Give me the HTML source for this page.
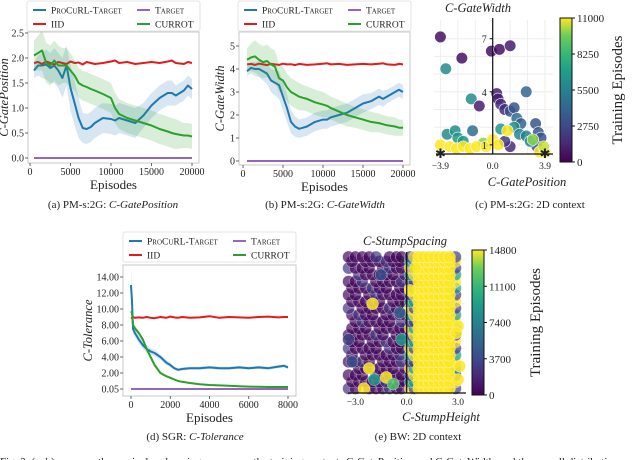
<!DOCTYPE html>
<html><head><meta charset="utf-8"><style>
html,body{margin:0;padding:0;background:#fff;}
body{width:640px;height:460px;overflow:hidden;position:relative;font-family:"Liberation Serif",serif;}
svg{position:absolute;left:0;top:0;}
text{font-family:"Liberation Serif",serif;fill:#222;}
</style></head><body>
<svg id="fig" width="640" height="460" viewBox="0 0 640 460">
<defs>
<linearGradient id="viridis" x1="0" y1="1" x2="0" y2="0">
<stop offset="0" stop-color="#440154"/><stop offset="0.13" stop-color="#482878"/><stop offset="0.25" stop-color="#3e4989"/><stop offset="0.38" stop-color="#31688e"/><stop offset="0.5" stop-color="#26828e"/><stop offset="0.63" stop-color="#1f9e89"/><stop offset="0.75" stop-color="#35b779"/><stop offset="0.88" stop-color="#6ece58"/><stop offset="1" stop-color="#fde725"/>
</linearGradient>
</defs>
</svg>
<script>
// ---------- data panel (a) & (b) ----------
const epAB = [0.5,1,1.5,2,2.5,3,3.5,4,4.5,5,5.5,6,6.5,7,7.5,8,9,10,10.5,11,12,13,14,15,16,17,17.5,18,19,19.5,20];
const procurlA = [1.75,1.85,1.85,1.87,1.8,1.85,1.75,1.6,1.85,1.4,1.1,0.8,0.6,0.58,0.62,0.7,0.8,0.78,0.75,0.8,0.75,0.7,0.85,1.05,1.2,1.3,1.3,1.25,1.35,1.45,1.38];
const currotA = [2.05,2.1,2.15,1.9,1.85,1.95,1.85,1.85,1.85,1.75,1.65,1.5,1.45,1.42,1.38,1.35,1.28,1.2,1.0,0.88,0.8,0.75,0.7,0.65,0.58,0.53,0.5,0.48,0.45,0.45,0.43];
const iidA = [1.9,1.92,1.88,1.93,1.9,1.87,1.92,1.9,1.88,1.93,1.9,1.91,1.87,1.92,1.9,1.88,1.9,1.93,1.95,1.9,1.92,1.88,1.9,1.92,1.9,1.93,1.95,1.9,1.88,1.92,1.9];
const targetA = [0,0];
const procurlBandA = [0.15,0.2,0.25,0.3,0.3,0.35,0.35,0.4,0.4,0.45,0.45,0.4,0.3,0.3,0.3,0.3,0.3,0.3,0.3,0.3,0.3,0.3,0.25,0.25,0.25,0.25,0.25,0.2,0.2,0.2,0.2];
const currotBandA = [0.3,0.35,0.4,0.4,0.4,0.4,0.4,0.35,0.35,0.35,0.3,0.3,0.3,0.3,0.3,0.3,0.3,0.3,0.3,0.3,0.3,0.3,0.3,0.3,0.3,0.3,0.3,0.3,0.25,0.25,0.25];
const procurlB = [3.9,4.05,4.0,4.0,3.9,3.8,3.5,3.4,3.3,2.8,2.3,1.7,1.5,1.4,1.45,1.5,1.7,1.8,1.8,1.9,2.0,2.1,2.3,2.5,2.6,2.8,2.7,2.8,3.0,3.1,3.0];
const currotB = [4.4,4.5,4.55,4.4,4.3,4.35,4.2,4.1,3.6,3.5,3.2,3.0,2.9,2.8,2.75,2.7,2.55,2.45,2.4,2.3,2.15,2.0,1.9,1.8,1.7,1.65,1.6,1.55,1.5,1.45,1.45];
const iidB = [4.2,4.22,4.18,4.23,4.2,4.17,4.22,4.2,4.18,4.23,4.2,4.21,4.17,4.22,4.2,4.18,4.2,4.23,4.25,4.2,4.22,4.18,4.2,4.22,4.2,4.23,4.25,4.2,4.18,4.22,4.2];
const procurlBandB = [0.2,0.25,0.3,0.35,0.4,0.45,0.5,0.55,0.6,0.6,0.6,0.5,0.45,0.4,0.4,0.4,0.4,0.4,0.4,0.4,0.4,0.4,0.4,0.4,0.35,0.35,0.35,0.3,0.3,0.3,0.3];
const currotBandB = [0.5,0.6,0.7,0.7,0.7,0.7,0.7,0.7,0.6,0.6,0.6,0.6,0.6,0.6,0.55,0.55,0.55,0.55,0.5,0.5,0.5,0.5,0.45,0.45,0.45,0.4,0.4,0.4,0.4,0.35,0.35];
const ticksXAB = [0,5000,10000,15000,20000];
const ticksYA = [0.0,0.5,1.0,1.5,2.0,2.5];
const ticksYB = [0,1,2,3,4,5];
// ---------- data panel (d) ----------
const epD = [0,0.05,0.1,0.2,0.4,0.6,0.8,1,1.2,1.5,1.8,2,2.2,2.4,2.6,3,3.5,4,4.5,5,5.5,6,6.5,7,7.5,7.8,8];
const procurlD = [13,11,7.5,7,6.2,5.5,5,4.7,4.5,4,3.3,3,2.6,2.4,2.5,2.6,2.6,2.7,2.6,2.6,2.7,2.6,2.7,2.6,2.8,2.9,2.7];
const currotD = [9.7,9.5,8,7.6,7,6.2,5,4,3,2.0,1.6,1.4,1.2,1.0,0.9,0.75,0.6,0.5,0.45,0.4,0.35,0.3,0.28,0.25,0.25,0.25,0.25];
const iidD = [8.8,8.9,9.0,8.9,8.95,8.9,9.0,8.9,8.85,9.0,8.9,9.05,8.95,8.9,9.0,8.9,8.95,9.1,8.9,9.0,8.95,8.9,9.0,9.05,8.95,9.0,9.0];
const procurlBandD = [1.8,1.5,0.6,0.5,0.5,0.5,0.5,0.4,0.4,0.3,0.3,0.3,0.2,0.2,0.2,0.2,0.2,0.2,0.2,0.2,0.2,0.2,0.2,0.2,0.2,0.2,0.2];
const currotBandD = [0.4,0.4,0.3,0.3,0.3,0.3,0.3,0.3,0.3,0.2,0.15,0.15,0.1,0.1,0.1,0.1,0.1,0.1,0.1,0.1,0.1,0.1,0.1,0.1,0.1,0.1,0.1];
const ticksXD = [0,2000,4000,6000,8000];
const ticksYD = [0,2,4,6,8,10,12,14];
const tickLabelsYD = ["0.05","2.00","4.00","6.00","8.00","10.00","12.00","14.00"];
// ---------- data panel (c) ----------
const cX = [-3.9,-2.3,-3.5,-1.6,-1.0,-0.1,0.5,1.3,2.5,0.3,0.4,0.6,0.9,1.3,1.6,1.8,2.1,3.2,3.4,3.6,0.6,1.6,2.0,2.5,3.3,1.3,0.9,-3.4,-2.8,-2.6,-1.5,-2.2,-0.7,2.8,3.0,-3.9,-3.2,-2.7,-2.2,-1.7,-1.2,-0.5,0,0.4,3.5,3.9,1.1,3.8];
const cY = [7.1,5.9,5.3,3.6,3.2,6.3,6.4,6.6,4.0,3.9,3.6,3.3,3.0,2.9,3.1,2.5,2.2,2.2,1.7,1.4,1.9,2.0,1.6,1.5,0.9,0.9,1.2,1.6,1.8,1.4,1.8,1.2,1.1,1.2,1.3,1.0,0.9,0.8,0.9,0.8,0.9,0.9,1.3,1.0,0.6,0.6,1.8,0.9];
const cT = [500,500,6000,6000,1000,500,500,1000,4000,1000,1000,1500,1500,3300,3300,4400,3900,3300,3300,3300,6600,6000,5500,5500,3300,1600,2200,6000,6000,6600,4400,6600,9900,6000,9900,11000,11000,11000,11000,11000,11000,11000,11000,11000,11000,11000,11000,10500];
const cbTicksC = [0,2750,5500,8250,11000];
// ---------- data panel (e) ----------
const eRowsY = [0.2,0.5,0.8,1.1,1.4,1.7,2.0,2.3,2.6,2.9,3.2,3.5,3.8,4.1,4.4,4.7,5.0,5.3,5.6,5.9,6.1];
const eLeftX = [-3.4,-3.0,-2.6,-2.2,-1.8,-1.4,-1.0,-0.6,-0.3];
const eYellowX = [0.7,1.0,1.3,1.6,1.9,2.2,2.5];
const eTealX = [0.2,0.45,2.85];
const eSparse = [[-2.0,4.0,14800],[-2.2,1.1,14800],[-1.2,0.7,14800],[-0.8,0.4,12000],[-2.5,0.2,14800],[-3.2,1.4,4000],[-1.5,5.3,4000],[0.5,5.6,14800],[3.0,3.0,14800],[2.9,2.7,14800],[-1.9,0.6,9000],[0.2,4.6,14800],[-3.4,2.4,3000],[-0.4,3.6,5000],[-0.3,2.4,9000],[3.1,1.2,14800],[3.0,0.6,14800]];
const cbTicksE = [0,3700,7400,11100,14800];
</script>
<script>
const svg = document.getElementById('fig');
const NS = 'http://www.w3.org/2000/svg';
function el(tag, attrs, parent){ const e=document.createElementNS(NS,tag); for(const k in attrs) e.setAttribute(k,attrs[k]); (parent||svg).appendChild(e); return e; }
function txt(x,y,s,attrs,parent){ const t=el('text',Object.assign({x:x,y:y},attrs||{}),parent); t.textContent=s; return t; }
const VIR = ['#440154','#482878','#3e4989','#31688e','#26828e','#1f9e89','#35b779','#6ece58','#fde725'];
function viridis(t){ t=Math.max(0,Math.min(1,t)); const f=t*(VIR.length-1); const i=Math.min(VIR.length-2,Math.floor(f)); const r=f-i;
 const a=VIR[i], b=VIR[i+1]; const c=(s,o)=>parseInt(s.substr(o,2),16); const m=o=>Math.round(c(a,o)+(c(b,o)-c(a,o))*r);
 return 'rgb('+m(1)+','+m(3)+','+m(5)+')'; }
const BLUE='#1f77b4', RED='#e41a1c', PURPLE='#9467bd', GREEN='#2ca02c';

function lineChart(o){
  const g = el('g',{});
  
  
  const xs = v => o.px0 + (v - o.x0) / (o.x1 - o.x0) * (o.px1 - o.px0);
  const ys = v => o.py0 + (v - o.y0) / (o.y1 - o.y0) * (o.py1 - o.py0);
  const frame = el('rect',{x:o.bx0,y:o.by0,width:o.bx1-o.bx0,height:o.by1-o.by0,fill:'none',stroke:'#c8c8c8','stroke-width':1},g);
  
  
  o.ticksY.forEach((v,i)=>{ const y=ys(v);
    el('line',{x1:o.bx0-3,x2:o.bx0,y1:y,y2:y,stroke:'#444','stroke-width':0.8},g);
    const t=txt(o.bx0-4,y+3.5,o.tickLabelsY?o.tickLabelsY[i]:o.fmtY(v),{'font-size':10,'text-anchor':'end',fill:'#444'},g);
    
     });
  o.ticksX.forEach(v=>{ const x=xs(v/1000);
    el('line',{x1:x,x2:x,y1:o.by1,y2:o.by1+3,stroke:'#444','stroke-width':0.8},g);
    const t=txt(x,o.by1+12,String(v),{'font-size':10,'text-anchor':'middle',fill:'#444'},g);
    
     });
  o.series.forEach(s=>{
    const X = s.x || o.xs;
    if(s.band){
      let d=''; X.forEach((v,i)=>{ d+=(i?'L':'M')+xs(v).toFixed(1)+','+ys(s.y[i]+s.band[i]).toFixed(1); });
      for(let i=X.length-1;i>=0;i--) d+='L'+xs(X[i]).toFixed(1)+','+ys(s.y[i]-s.band[i]).toFixed(1);
      const b=el('path',{d:d+'Z',fill:s.color,opacity:0.18,stroke:'none'},g);
      
      
    }
    let d=''; X.forEach((v,i)=>{ d+=(i?'L':'M')+xs(v).toFixed(1)+','+ys(s.y[i]).toFixed(1); });
    const p=el('path',{d:d,fill:'none',stroke:s.color,'stroke-width':2,'stroke-linejoin':'round'},g);
    
    
  });
  const xl=txt((o.bx0+o.bx1)/2,o.by1+26,'Episodes',{'font-size':13,'text-anchor':'middle',fill:'#333'},g);
  
  
  const yl=txt(0,0,o.ylabel,{'font-size':12.5,'font-style':'italic','text-anchor':'middle',fill:'#333',transform:'translate('+o.ylx+','+((o.by0+o.by1)/2)+') rotate(-90)'},g);
  
  
  const lg=el('g',{},g);
  
  
  el('rect',{x:o.lx,y:o.ly,width:173,height:30,fill:'#fff',stroke:'#ddd','stroke-width':0.8,rx:2},lg);
  const entries=[['ProCuRL-Target',BLUE,0,0],['Target',PURPLE,104,0],['IID',RED,0,1],['CURROT',GREEN,104,1]];
  entries.forEach(e=>{ const ex=o.lx+6+e[2], ey=o.ly+9+e[3]*14;
    const eg=el('g',{},lg);
    
    
    el('line',{x1:ex,x2:ex+13,y1:ey,y2:ey,stroke:e[1],'stroke-width':2},eg);
    txt(ex+18,ey+3.5,e[0],{'font-size':9.5,fill:'#444','font-variant':e[0]==='CURROT'||e[0]==='IID'?'normal':'small-caps'},eg);
  });
  return g;
}

lineChart({name:'chart-a-gate-position',bx0:28,bx1:199,by0:32,by1:163,px0:30,px1:192,x0:0,x1:20,py0:158,py1:33,y0:0,y1:2.5,
  ticksX:ticksXAB,ticksY:ticksYA,fmtY:v=>v.toFixed(1),xs:epAB,ylabel:'C-GatePosition',ylx:8,lx:27,ly:1,
  series:[{key:'procurl',y:procurlA,band:procurlBandA,color:BLUE},{key:'iid',y:iidA,color:RED},{key:'currot',y:currotA,band:currotBandA,color:GREEN},{key:'target',x:[0.5,20],y:targetA,color:PURPLE}]});
lineChart({name:'chart-b-gate-width',bx0:239,bx1:410,by0:32,by1:165,px0:243,px1:403,x0:0,x1:20,py0:161,py1:46,y0:0,y1:5,
  ticksX:ticksXAB,ticksY:ticksYB,fmtY:v=>String(v),xs:epAB,ylabel:'C-GateWidth',ylx:224,lx:238,ly:1,
  series:[{key:'procurl',y:procurlB,band:procurlBandB,color:BLUE},{key:'iid',y:iidB,color:RED},{key:'currot',y:currotB,band:currotBandB,color:GREEN},{key:'target',x:[0.5,20],y:[0,0],color:PURPLE}]});
lineChart({name:'chart-d-tolerance',bx0:123,bx1:296,by0:265,by1:396,px0:131,px1:288,x0:0,x1:8,py0:389,py1:277,y0:0,y1:14,
  ticksX:ticksXD,ticksY:ticksYD,tickLabelsY:tickLabelsYD,xs:epD,ylabel:'C-Tolerance',ylx:92,lx:123,ly:232,
  series:[{key:'procurl',y:procurlD,band:procurlBandD,color:BLUE},{key:'iid',y:iidD,color:RED},{key:'currot',y:currotD,band:currotBandD,color:GREEN},{key:'target',x:[0,8],y:[0,0],color:PURPLE}]});

function colorbar(name,x,y0,y1,ticks,labelX){
  const g=el('g',{});
  
  
  el('rect',{x:x,y:y0,width:12,height:y1-y0,fill:'url(#viridis)',stroke:'#111','stroke-width':1},g);
  const mx=ticks[ticks.length-1];
  ticks.forEach(v=>{ const y=y1-(v/mx)*(y1-y0);
    el('line',{x1:x+12,x2:x+15,y1:y,y2:y,stroke:'#111'},g);
    txt(x+17,y+4,String(v),{'font-size':11,fill:'#222'},g); });
  const t=txt(0,0,'Training Episodes',{'font-size':15,'text-anchor':'middle',fill:'#222',transform:'translate('+labelX+','+((y0+y1)/2)+') rotate(-90)'},g);
  
  
}

// ---- panel (c) scatter ----
(function(){
  const g=el('g',{});
  
  
  const xs=v=>492.7+v*(545-492.7)/3.9, ys=v=>162.6-v*17.7;
  [-3.9,-2.6,-1.3,0,1.3,2.6,3.9].forEach(v=>el('line',{x1:xs(v),x2:xs(v),y1:20,y2:154,stroke:'#eee'},g));
  [1,2,3,4,5,6,7].forEach(v=>el('line',{x1:434,x2:553,y1:ys(v),y2:ys(v),stroke:'#eee'},g));
  const mx=cbTicksC[cbTicksC.length-1];
  cX.forEach((v,i)=>{ const c=el('circle',{cx:xs(v),cy:ys(cY[i]),r:5.8,fill:viridis(cT[i]/mx),'fill-opacity':0.85,stroke:'#fff','stroke-width':0.6},g);
    
     });
  el('line',{x1:xs(0),x2:xs(0),y1:18,y2:154,stroke:'#111','stroke-width':1.2},g);
  el('line',{x1:436,x2:553,y1:154,y2:154,stroke:'#111','stroke-width':1.2},g);
  [[1,'1'],[4,'4'],[7,'7']].forEach(a=>{el('line',{x1:xs(0)-3,x2:xs(0),y1:ys(a[0]),y2:ys(a[0]),stroke:'#111'},g); txt(xs(0)-6,ys(a[0])+4,a[1],{'font-size':10,'text-anchor':'end'},g);});
  [[-3.9,'−3.9'],[0,'0.0'],[3.9,'3.9']].forEach(a=>txt(xs(a[0]),169,a[1],{'font-size':9.5,'text-anchor':'middle'},g));
  [-3.9,3.9].forEach(v=>{ const s=txt(xs(v),158,'✱',{'font-size':13,'text-anchor':'middle',fill:'#000'},g);
    
     });
  txt(478,12,'C-GateWidth',{'font-size':12.5,'font-style':'italic','text-anchor':'middle'},g);
  txt(527,186,'C-GatePosition',{'font-size':12.5,'font-style':'italic','text-anchor':'middle'},g);
})();
colorbar('colorbar-c',560,18,162,cbTicksC,622);

// ---- panel (e) scatter ----
(function(){
  const g=el('g',{});
  
  
  const xs=v=>406.7+v*17.1, ys=v=>393-v*22.3;
  [-3,-1.5,0,1.5,3].forEach(v=>el('line',{x1:xs(v),x2:xs(v),y1:252,y2:393,stroke:'#eee'},g));
  [2,4,6].forEach(v=>el('line',{x1:350,x2:465,y1:ys(v),y2:ys(v),stroke:'#eee'},g));
  const mx=cbTicksE[cbTicksE.length-1];
  function pt(x,y,t,a){ const c=el('circle',{cx:xs(x),cy:ys(y),r:6,fill:viridis(t/mx),'fill-opacity':a||0.7,stroke:'#fff','stroke-width':0.3},g);
    
     }
  eRowsY.forEach((y,r)=>{ eLeftX.forEach((x,k)=>{ if((r*3+k)%7!==2) pt(x+((r%2)?0.2:0),y,(r+k)%6===0?2500:400); }); });
  eRowsY.forEach((y,r)=>{ eTealX.forEach((x,k)=>pt(x,y,(r+k)%3===0?14800:(r%2?9000:3000))); });
  eRowsY.forEach((y,r)=>{ eYellowX.forEach(x=>pt(x,y,14800,0.9)); });
  eSparse.forEach(p=>pt(p[0],p[1],p[2],0.85));
  el('line',{x1:xs(0),x2:xs(0),y1:252,y2:393,stroke:'#111','stroke-width':1.2},g);
  el('line',{x1:348,x2:466,y1:393,y2:393,stroke:'#111','stroke-width':1.2},g);
  [[2,'2'],[4,'4'],[6,'6']].forEach(a=>txt(xs(0)-3,ys(a[0])+4,a[1],{'font-size':9.5,'text-anchor':'end'},g));
  [[-3,'−3.0'],[0,'0.0'],[3,'3.0']].forEach(a=>txt(xs(a[0]),405,a[1],{'font-size':9.5,'text-anchor':'middle'},g));
  txt(405,245,'C-StumpSpacing',{'font-size':12.5,'font-style':'italic','text-anchor':'middle'},g);
  txt(441,421,'C-StumpHeight',{'font-size':12.5,'font-style':'italic','text-anchor':'middle'},g);
})();
colorbar('colorbar-e',472,250,395,cbTicksE,540);

[[113,208,'(a) PM-s:2G: ','C-GatePosition'],[325,208,'(b) PM-s:2G: ','C-GateWidth'],[530,208,'(c) PM-s:2G: 2D context',''],[195,440,'(d) SGR: ','C-Tolerance'],[418,440,'(e) BW: 2D context','']].forEach(c=>{
  const t=el('text',{x:c[0],y:c[1],'font-size':11,'text-anchor':'middle'});
  
  
  const a=el('tspan',{},t); a.textContent=c[2];
  if(c[3]){ const b=el('tspan',{'font-style':'italic'},t); b.textContent=c[3]; }
});
const fc=txt(0,465,'Fig. 3: (a–b) compare the curriculum learning process on the training contexts C-GatePosition and C-GateWidth, and the overall distribution',{'font-size':11});


</script>
</body></html>
